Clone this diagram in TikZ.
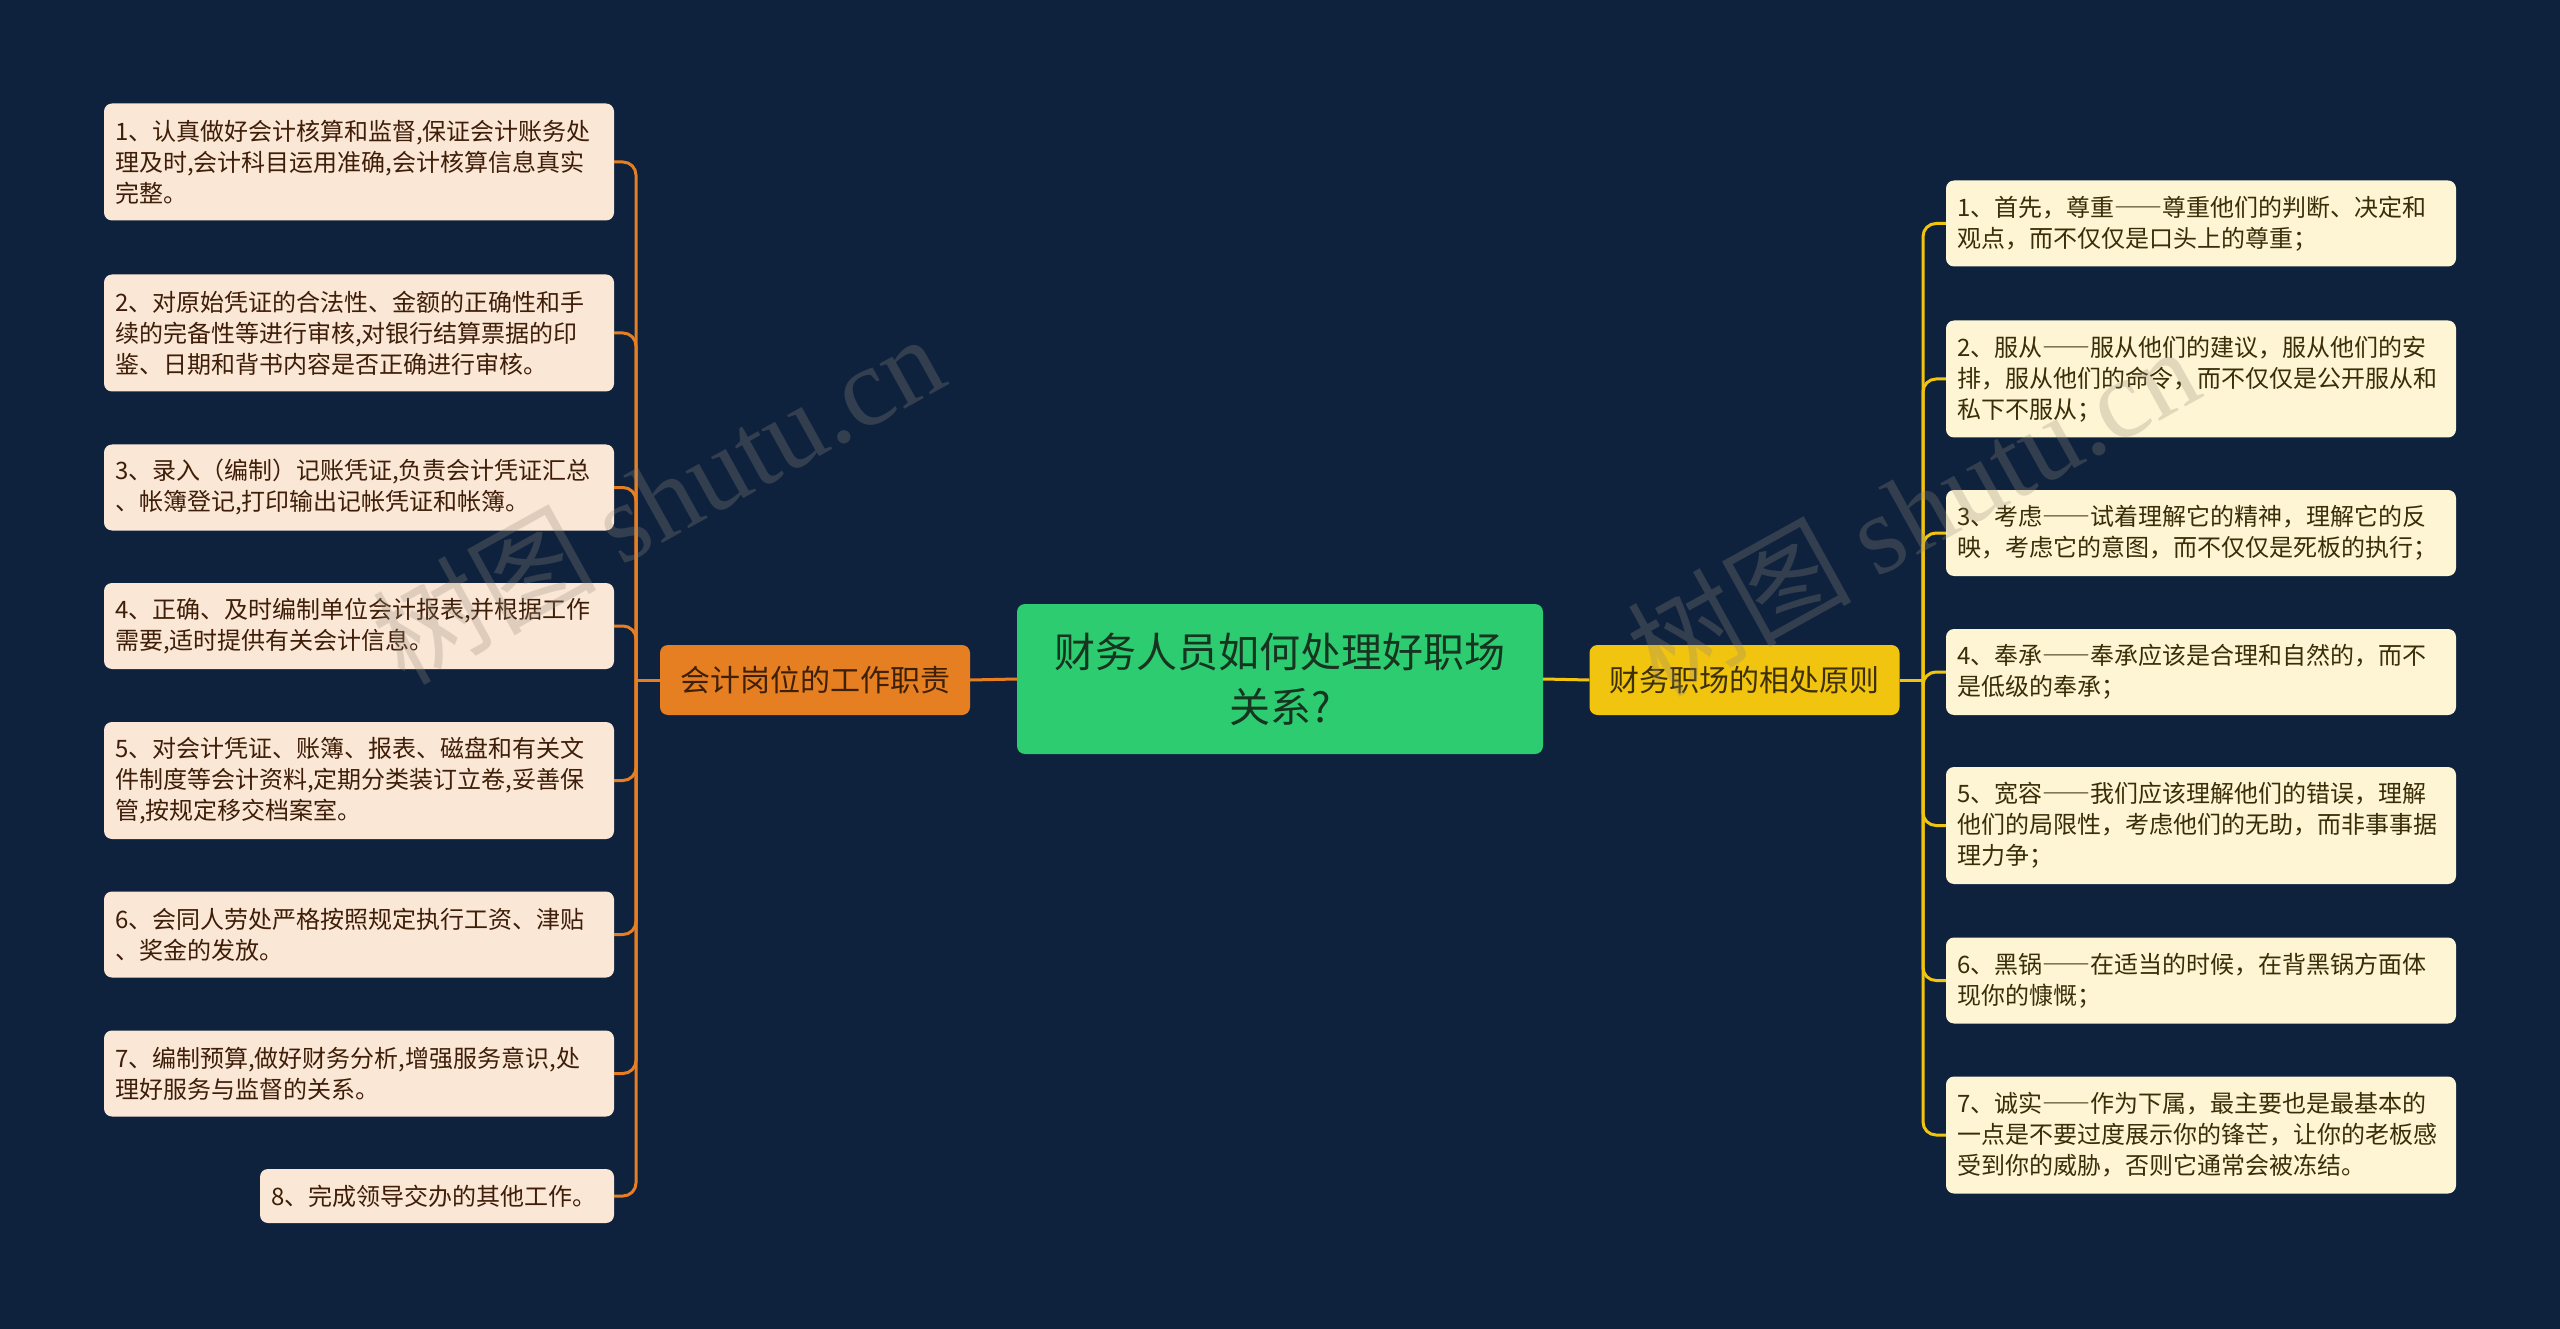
\documentclass[tikz,border=0pt]{standalone}
\usepackage{fontspec}
\setmainfont{Noto Sans CJK SC}
\newfontfamily\wmserif{Liberation Serif}
\newcommand{\dd}{{\addfontfeatures{RawFeature=+fwid}——}}
\definecolor{bgc}{RGB}{14,34,62}
\definecolor{lfill}{RGB}{251,231,214}
\definecolor{rfill}{RGB}{254,245,212}
\definecolor{ltext}{RGB}{62,30,8}
\definecolor{rtext}{RGB}{58,46,8}
\definecolor{orangeb}{RGB}{230,126,34}
\definecolor{yellowb}{RGB}{241,196,15}
\definecolor{greenc}{RGB}{46,204,113}
\definecolor{ctext}{RGB}{22,52,32}
\definecolor{otext}{RGB}{62,32,6}
\definecolor{ytext}{RGB}{62,48,4}
\definecolor{wmc}{RGB}{150,138,125}
\tikzset{
  leafbase/.style={rounded corners=8pt, inner xsep=11pt, inner ysep=0pt, align=left,
    font=\fontsize{24}{31}\selectfont, anchor=center},
  lbox/.style={leafbase, fill=lfill, text=ltext, text width=488pt},
  rbox/.style={leafbase, fill=rfill, text=rtext, text width=488pt},
  hthree/.style={minimum height=117pt},
  htwo/.style={minimum height=86pt},
  hone/.style={minimum height=54pt},
  branchbox/.style={rounded corners=8pt, minimum width=310pt, minimum height=70pt,
    inner sep=0pt, font=\fontsize{30}{36}\selectfont},
  lconn/.style={draw=orangeb, line width=3pt, rounded corners=13pt},
  rconn/.style={draw=yellowb, line width=3pt, rounded corners=13pt},
  wm/.style={text=wmc, opacity=0.28, font=\fontsize{112}{120}\selectfont, inner sep=0pt}
}
\begin{document}
\begin{tikzpicture}[x=1pt,y=1pt]
\fill[bgc] (0,0) rectangle (2560,-1329);
\useasboundingbox (0,0) rectangle (2560,-1329);

% central and branches
\node[fill=greenc, rounded corners=8pt, minimum width=526pt, minimum height=150pt,
  inner sep=0pt, align=center, text=ctext, font=\fontsize{41}{55}\selectfont]
  (c) at (1280,-679) {财务人员如何处理好职场\\关系?};
\node[branchbox, fill=orangeb, text=otext] (ob) at (815,-680) {会计岗位的工作职责};
\node[branchbox, fill=yellowb, text=ytext] (yb) at (1744.5,-680) {财务职场的相处原则};

% left leaves
\node[lbox, hthree] (L1) at (359,-162) {1、认真做好会计核算和监督,保证会计账务处\\理及时,会计科目运用准确,会计核算信息真实\\完整。};
\node[lbox, hthree] (L2) at (359,-333) {2、对原始凭证的合法性、金额的正确性和手\\续的完备性等进行审核,对银行结算票据的印\\鉴、日期和背书内容是否正确进行审核。};
\node[lbox, htwo] (L3) at (359,-487.5) {3、录入（编制）记账凭证,负责会计凭证汇总\\、帐簿登记,打印输出记帐凭证和帐簿。};
\node[lbox, htwo] (L4) at (359,-626) {4、正确、及时编制单位会计报表,并根据工作\\需要,适时提供有关会计信息。};
\node[lbox, hthree] (L5) at (359,-780.5) {5、对会计凭证、账簿、报表、磁盘和有关文\\件制度等会计资料,定期分类装订立卷,妥善保\\管,按规定移交档案室。};
\node[lbox, htwo] (L6) at (359,-934.5) {6、会同人劳处严格按照规定执行工资、津贴\\、奖金的发放。};
\node[lbox, htwo] (L7) at (359,-1073.5) {7、编制预算,做好财务分析,增强服务意识,处\\理好服务与监督的关系。};
\node[lbox, hone, text width=332pt] (L8) at (437,-1196) {8、完成领导交办的其他工作。};

% right leaves
\node[rbox, htwo] (R1) at (2201,-223.5) {1、首先，尊重\dd 尊重他们的判断、决定和\\观点，而不仅仅是口头上的尊重；};
\node[rbox, hthree] (R2) at (2201,-379) {2、服从\dd 服从他们的建议，服从他们的安\\排，服从他们的命令，而不仅仅是公开服从和\\私下不服从；};
\node[rbox, htwo] (R3) at (2201,-533) {3、考虑\dd 试着理解它的精神，理解它的反\\映，考虑它的意图，而不仅仅是死板的执行；};
\node[rbox, htwo] (R4) at (2201,-672) {4、奉承\dd 奉承应该是合理和自然的，而不\\是低级的奉承；};
\node[rbox, hthree] (R5) at (2201,-825.5) {5、宽容\dd 我们应该理解他们的错误，理解\\他们的局限性，考虑他们的无助，而非事事据\\理力争；};
\node[rbox, htwo] (R6) at (2201,-980.5) {6、黑锅\dd 在适当的时候，在背黑锅方面体\\现你的慷慨；};
\node[rbox, hthree] (R7) at (2201,-1135) {7、诚实\dd 作为下属，最主要也是最基本的\\一点是不要过度展示你的锋芒，让你的老板感\\受到你的威胁，否则它通常会被冻结。};

% junctions
\coordinate (jL) at (636,-680);
\coordinate (jR) at (1923,-680);

% connectors
\draw[lconn] (c.west) -- (ob.east);
\draw[rconn] (c.east) -- (yb.west);
\draw[lconn] (ob.west) -- (jL);
\draw[rconn] (yb.east) -- (jR);
\foreach \n in {L1,L2,L3,L4,L5,L6,L7,L8} {
  \draw[lconn] (jL) |- (\n.east);
}
\foreach \n in {R1,R2,R3,R4,R5,R6,R7} {
  \draw[rconn] (jR) |- (\n.west);
}

% watermarks
\node[wm, rotate=29] (wm1) at (657,-498) {树图 {\wmserif shutu.cn}};
\node[wm, rotate=29] (wm2) at (1912,-510) {树图 {\wmserif shutu.cn}};
\end{tikzpicture}
\end{document}
